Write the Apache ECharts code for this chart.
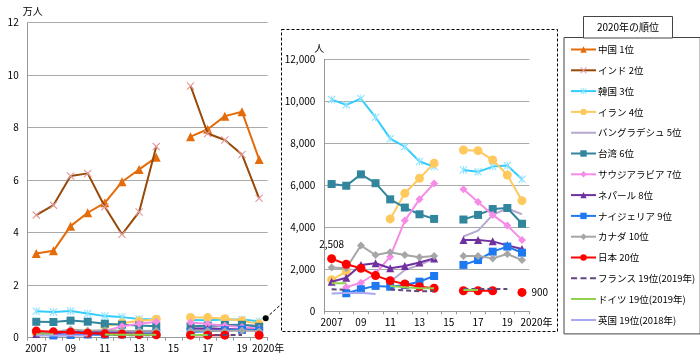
<!DOCTYPE html>
<html><head><meta charset="utf-8">
<script src="https://cdn.jsdelivr.net/npm/echarts@6/dist/echarts.min.js"></script>
<style>html,body{margin:0;padding:0;background:#fff}#c{width:700px;height:364px}</style>
</head><body><div id="c"></div>
<script>
// ---- data ----
const years = ['2007','2008','2009','2010','2011','2012','2013','2014','2015','2016','2017','2018','2019','2020'];
const yTicksMain = [0, 2, 4, 6, 8, 10, 12];      // 万人
const yTicksInset = [0, 2000, 4000, 6000, 8000, 10000, 12000]; // 人
// 万人
const china = [3.21, 3.31, 4.25, 4.76, 5.14, 5.94, 6.41, 6.87, null, 7.66, 7.94, 8.44, 8.61, 6.79];
const india = [4.67, 5.05, 6.16, 6.26, 4.99, 3.94, 4.79, 7.28, null, 9.59, 7.78, 7.53, 6.98, 5.31];
// 人
const korea      = [10080, 9830, 10130, 9240, 8220, 7840, 7130, 6890, null, 6730, 6640, 6890, 6940, 6290];
const iran       = [1500, 1890, null, null, 4400, 5620, 6330, 7050, null, 7680, 7650, 7210, 6490, 5270];
const bangladesh = [null, null, null, null, 1410, 1970, 2210, 2500, null, 3560, 3840, 4590, 4900, 4620];
const taiwan     = [6060, 5980, 6520, 6100, 5330, 4940, 4620, 4400, null, 4370, 4590, 4870, 4920, 4170];
const saudi      = [null, 1150, 1360, 1800, 2600, 4320, 5330, 6090, null, 5810, 5210, 4590, 4080, 3400];
const nepal      = [1410, 1600, 2210, 2290, 2050, 2160, 2320, 2520, null, 3400, 3400, 3330, 3140, 2970];
const nigeria    = [null, 860, 1050, 1210, 1170, 1250, 1410, 1680, null, 2210, 2440, 2840, 3080, 2790];
const canada     = [2090, 2050, 3130, 2680, 2810, 2680, 2570, 2630, null, 2630, 2630, 2520, 2730, 2440];
const japan      = [2508, 2240, 2050, 1700, 1460, 1300, 1170, 1100, null, 980, 980, 980, null, 900];
const france     = [1050, 1020, null, null, 1050, 990, 950, 970, null, 1060, 1060, 1060, 1060, null];
const germany    = [1340, 1340, null, null, 1200, 1150, 1100, 1100, null, 1020, 1020, null, null, null];
const uk         = [850, 870, 880, 820, null, null, null, null, null, null, null, null, null, null];
const names = ['中国 1位','インド 2位','韓国 3位','イラン 4位','バングラデシュ 5位','台湾 6位','サウジアラビア 7位','ネパール 8位','ナイジェリア 9位','カナダ 10位','日本 20位','フランス 19位(2019年)','ドイツ 19位(2019年)','英国 19位(2018年)'];
const japanLabels = {0: '2,508', 13: '900'};

// ---- styles ----
const X = 'path://M1,0L5,4L9,0L10,1L6,5L10,9L9,10L5,6L1,10L0,9L4,5L0,1Z';
const AST = 'path://M1,0L5,4L9,0L10,1L6,5L10,9L9,10L5,6L1,10L0,9L4,5L0,1ZM4.4,0L5.6,0L5.6,10L4.4,10Z';
const CORNERS = 'M0,0L0.05,0L0,0.05ZM25,8L24.95,8L25,7.95Z';
const LINE_ICON = 'path://' + CORNERS + 'M0,3L25,3L25,5L0,5Z';
const DASH_ICON = 'path://' + CORNERS + 'M0,3L6,3L6,5L0,5ZM9.5,3L15.5,3L15.5,5L9.5,5ZM19,3L25,3L25,5L19,5Z';
const styles = [
  {line:'#E46C0A', sym:'triangle', sc:'#E46C0A', ss:9},
  {line:'#984807', sym:X, sc:'#E39A9A', ss:8},
  {line:'#33CCFF', sym:AST, sc:'#8FE3FF', ss:8},
  {line:'#FFC95E', sym:'circle', sc:'#FFC95E', ss:9},
  {line:'#B7A8D0', sym:'none', icon: LINE_ICON},
  {line:'#31859C', sym:'rect', sc:'#31859C', ss:8},
  {line:'#F68BE8', sym:'diamond', sc:'#F68BE8', ss:8},
  {line:'#7030A0', sym:'triangle', sc:'#7030A0', ss:8},
  {line:'#1E78F0', sym:'rect', sc:'#1E78F0', ss:8},
  {line:'#A6A6A6', sym:'diamond', sc:'#A6A6A6', ss:8},
  {line:'#FF0000', sym:'circle', sc:'#FF0000', ss:9},
  {line:'#604A7B', sym:'none', dash:true, icon: DASH_ICON},
  {line:'#92D050', sym:'none', icon: LINE_ICON},
  {line:'#A8A8F0', sym:'none', icon: LINE_ICON}
];
const smallData = [korea, iran, bangladesh, taiwan, saudi, nepal, nigeria, canada, japan, france, germany, uk];
const FONT = 'Noto Sans CJK JP';

function mkSeries(i, data, xi, yi, withLabels) {
  const s = styles[i];
  const d = data.map((v, k) => {
    if (withLabels && i === 10 && japanLabels[k] !== undefined && v != null) {
      return {value: v, label: {show: true, formatter: japanLabels[k],
        position: k === 0 ? 'top' : 'right', distance: 5,
        fontSize: 10, color: '#000', fontFamily: FONT}};
    }
    return v;
  });
  return {
    name: names[i], type: 'line', xAxisIndex: xi, yAxisIndex: yi, data: d,
    symbol: s.sym, symbolSize: s.ss || 0, showSymbol: s.sym !== 'none',
    connectNulls: false, animation: false, clip: true,
    lineStyle: {color: s.line, width: 2, type: s.dash ? [5, 3] : 'solid'},
    itemStyle: {color: s.sc || s.line, borderWidth: 0},
    emphasis: {disabled: true}, z: 2 + i
  };
}

const series = [];
series.push(mkSeries(0, china, 0, 0, false));
series.push(mkSeries(1, india, 0, 0, false));
smallData.forEach((arr, j) => {
  series.push(mkSeries(j + 2, arr.map(v => v == null ? null : v / 10000), 0, 0, false));
});
smallData.forEach((arr, j) => {
  series.push(mkSeries(j + 2, arr, 1, 1, true));
});

function xAxisFor(gi, lastPad) {
  return {
    type: 'category', data: years, gridIndex: gi, boundaryGap: true,
    axisLine: {show: true, lineStyle: {color: '#999', width: 1}},
    axisTick: {show: true, interval: 0, length: 3, lineStyle: {color: '#999'}},
    axisLabel: {
      interval: (i) => i % 2 === 0 || i === 13,
      formatter: (v, i) => i === 0 ? '2007' : (i === 13 ? '{a|2020年}' : v.slice(2)),
      rich: {a: {padding: [0, 0, 0, lastPad], fontSize: 10, fontFamily: FONT, color: '#000'}},
      fontSize: 10, fontFamily: FONT, color: '#000', margin: 6, hideOverlap: false
    },
    splitLine: {show: false}
  };
}
function yAxisFor(gi, ticks, fmt, nm, nmPad) {
  return {
    type: 'value', gridIndex: gi, min: ticks[0], max: ticks[ticks.length - 1],
    interval: ticks[1] - ticks[0],
    name: nm, nameLocation: 'end', nameGap: 6,
    nameTextStyle: {fontSize: 10, fontFamily: FONT, color: '#000', padding: nmPad},
    axisLine: {show: true, lineStyle: {color: '#999', width: 1}},
    axisTick: {show: false},
    axisLabel: {formatter: fmt, fontSize: 10, fontFamily: FONT, color: '#000', margin: 9},
    splitLine: {show: true, lineStyle: {color: '#AAAAAA', width: 1}}
  };
}

const chart = echarts.init(document.getElementById('c'), null, {renderer: 'canvas'});
chart.setOption({
  backgroundColor: '#fff',
  animation: false,
  grid: [
    {left: 27.7, right: 432.3, top: 22.7, bottom: 26.3},
    {left: 324.3, right: 170.7, top: 59.3, bottom: 52.7}
  ],
  xAxis: [xAxisFor(0, 18), xAxisFor(1, 29)],
  yAxis: [
    yAxisFor(0, yTicksMain, (v) => String(v), '万人', [0, 0, 0, 10]),
    yAxisFor(1, yTicksInset, (v) => v.toLocaleString('en-US'), '人', [0, 10, 0, 0])
  ],
  legend: {
    orient: 'vertical', left: 564, top: 37.5,
    data: names.map((n, i) => styles[i].icon ? {name: n, icon: styles[i].icon} : {name: n}),
    selectedMode: false,
    itemWidth: 25, itemHeight: 8, itemGap: 8.8,
    padding: [6, 5, 8, 6],
    borderColor: '#444', borderWidth: 1, backgroundColor: '#fff',
    textStyle: {fontSize: 9.5, lineHeight: 12, fontFamily: FONT, color: '#000', padding: [0, 0, 0, -3]}
  },
  graphic: [
    {type: 'rect', shape: {x: 281.5, y: 29.5, width: 276, height: 302}, z: 0,
     style: {fill: 'none', stroke: '#000', lineWidth: 1, lineDash: [3, 2]}},
    {type: 'line', shape: {x1: 266, y1: 318, x2: 281.5, y2: 304}, z: 10,
     style: {stroke: '#000', lineWidth: 1, lineDash: [3, 2]}},
    {type: 'circle', shape: {cx: 265.7, cy: 318.3, r: 3}, z: 10, style: {fill: '#000'}},
    {type: 'rect', shape: {x: 583.5, y: 16.5, width: 89, height: 21.5}, z: 10,
     style: {fill: '#fff', stroke: '#444', lineWidth: 1}},
    {type: 'text', x: 628, y: 27.3, z: 11,
     style: {text: '2020年の順位', fontSize: 10, fontFamily: FONT, fill: '#000', align: 'center', verticalAlign: 'middle'}}
  ],
  series: series
});
</script></body></html>
